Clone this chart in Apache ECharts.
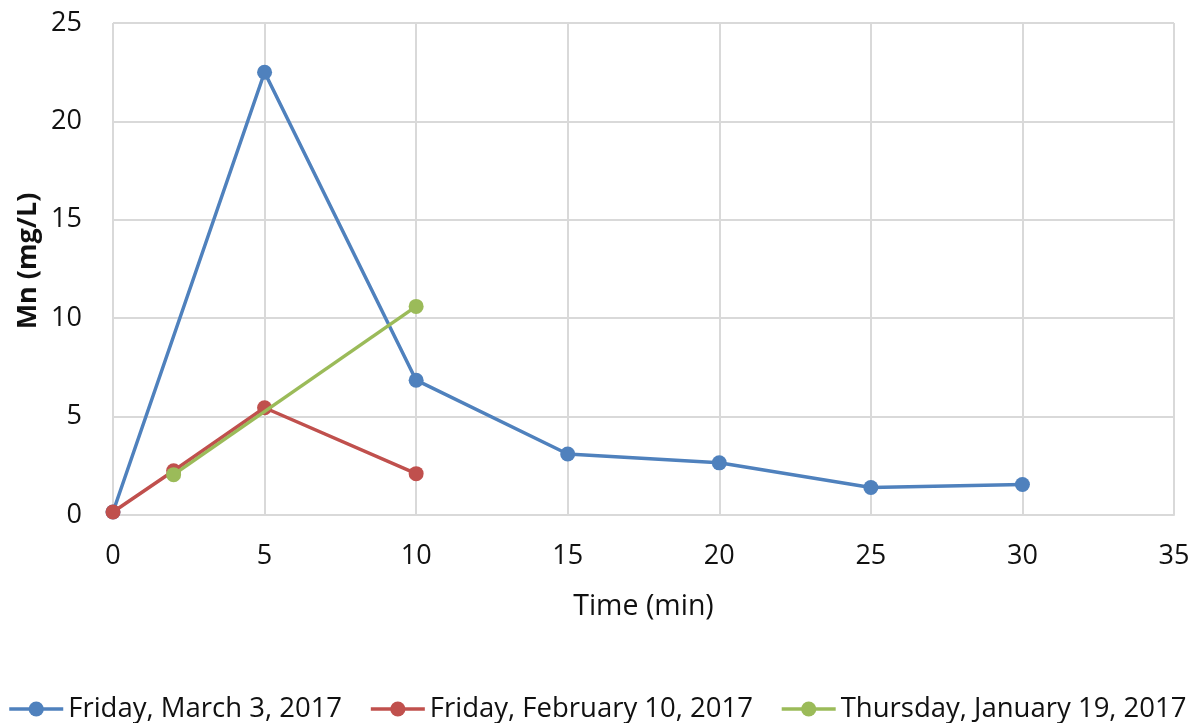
<!DOCTYPE html>
<html><head><meta charset="utf-8">
<script src="https://cdn.jsdelivr.net/npm/echarts@6/dist/echarts.min.js"></script>
<style>html,body{margin:0;padding:0;background:#fff}#c{width:1194px;height:723px}</style>
</head><body><div id="c"></div>
<script>
const seriesNames = ["Friday, March 3, 2017", "Friday, February 10, 2017", "Thursday, January 19, 2017"];
const marchTime = [0, 5, 10, 15, 20, 25, 30];
const marchMn = [0.15, 22.5, 6.85, 3.1, 2.65, 1.4, 1.55];
const febTime = [0, 2, 5, 10];
const febMn = [0.15, 2.25, 5.45, 2.1];
const janTime = [2, 10];
const janMn = [2.05, 10.6];
const colors = ["#4f81bd", "#c0504d", "#9bbb59"];
const xTicks = {min: 0, max: 35, interval: 5};
const yTicks = {min: 0, max: 25, interval: 5};
const xTitle = "Time (min)";
const yTitle = "Mn (mg/L)";

const FONT = "Open Sans";
function pairs(t, v) { return t.map((x, i) => [x, v[i]]); }
const data = [pairs(marchTime, marchMn), pairs(febTime, febMn), pairs(janTime, janMn)];

const chart = echarts.init(document.getElementById('c'));
chart.setOption({
  animation: false,
  textStyle: {fontFamily: FONT},
  grid: {left: 113, right: 20, top: 23, bottom: 208, containLabel: false},
  legend: {
    top: 695, left: 'center', width: 1194, padding: 0,
    itemWidth: 54, itemHeight: 19, itemGap: 27,
    textStyle: {fontFamily: FONT, fontSize: 27.5, color: '#111'},
    data: seriesNames.map((n, i) => ({name: n, itemStyle: {color: colors[i]}, lineStyle: {color: colors[i], width: 3.5}}))
  },
  graphic: [{
    type: 'text', rotation: Math.PI / 2,
    style: {text: yTitle, fontFamily: FONT, fontSize: 27, fontWeight: 'bold', fill: '#111',
      textAlign: 'center', textVerticalAlign: 'middle'},
    x: 28, y: 261
  }],
  xAxis: {
    type: 'value', min: xTicks.min, max: xTicks.max, interval: xTicks.interval,
    name: xTitle, nameLocation: 'middle', nameGap: 77,
    nameTextStyle: {fontFamily: FONT, fontSize: 28.5, color: '#111'},
    axisLine: {show: true, lineStyle: {color: '#d9d9d9', width: 2}},
    axisTick: {show: false},
    axisLabel: {fontFamily: FONT, fontSize: 27, color: '#111', margin: 28},
    splitLine: {show: true, lineStyle: {color: '#d9d9d9', width: 2}}
  },
  yAxis: {
    type: 'value', min: yTicks.min, max: yTicks.max, interval: yTicks.interval,
    axisLine: {show: false},
    axisTick: {show: false},
    axisLabel: {fontFamily: FONT, fontSize: 27, color: '#111', margin: 31},
    splitLine: {show: true, lineStyle: {color: '#d9d9d9', width: 2}}
  },
  series: data.map((d, i) => ({
    name: seriesNames[i], type: 'line', data: d,
    symbol: 'circle', symbolSize: 15,
    lineStyle: {color: colors[i], width: 3.5},
    itemStyle: {color: colors[i]},
    z: 2 + i
  }))
});
</script></body></html>
